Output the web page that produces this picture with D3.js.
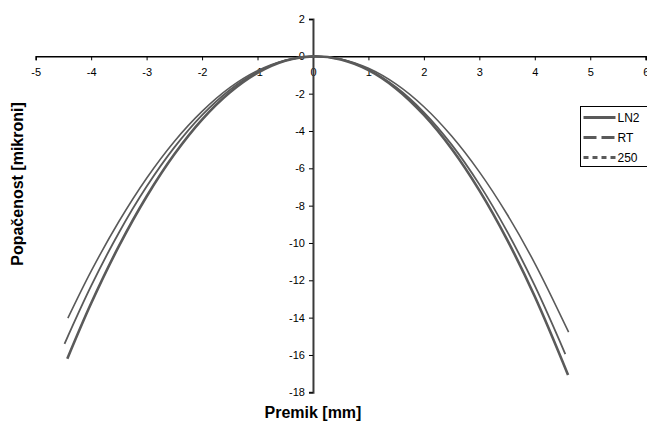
<!DOCTYPE html>
<html>
<head>
<meta charset="utf-8">
<script src="https://cdn.jsdelivr.net/npm/d3@7"></script>
<style>
  body { margin: 0; background: #fff; }
  svg { display: block; font-family: "Liberation Sans", Arial, sans-serif; }
</style>
</head>
<body>
<svg id="chart" width="647" height="421"></svg>
<script>
// series values (x in mm, y in microns)
const xLN2 = [-4.43, -4, -3.5, -3, -2.5, -2, -1.5, -1, -0.5, 0, 0.5, 1, 1.5, 2, 2.5, 3, 3.5, 4, 4.6];
const yLN2 = [-16.2, -13.23, -10.17, -7.51, -5.25, -3.39, -1.94, -0.89, -0.24, 0, -0.17, -0.74, -1.73, -3.14, -4.95, -7.18, -9.82, -12.87, -17.07];

const xRT = [-4.48, -4, -3.5, -3, -2.5, -2, -1.5, -1, -0.5, 0, 0.5, 1, 1.5, 2, 2.5, 3, 3.5, 4, 4.55];
const yRT = [-15.4, -12.3, -9.45, -6.98, -4.88, -3.15, -1.8, -0.83, -0.23, 0, -0.16, -0.71, -1.66, -3.0, -4.73, -6.86, -9.38, -12.29, -15.95];

const x250 = [-4.42, -4, -3.5, -3, -2.5, -2, -1.5, -1, -0.5, 0, 0.5, 1, 1.5, 2, 2.5, 3, 3.5, 4, 4.61];
const y250 = [-14.03, -11.51, -8.85, -6.53, -4.56, -2.95, -1.68, -0.77, -0.21, 0, -0.14, -0.64, -1.49, -2.7, -4.27, -6.19, -8.46, -11.09, -14.78];

const seriesNames = ["LN2", "RT", "250"];
const xTicks = [-5, -4, -3, -2, -1, 0, 1, 2, 3, 4, 5, 6];
const yTicks = [2, 0, -2, -4, -6, -8, -10, -12, -14, -16, -18];

const svg = d3.select("#chart");
const lineColor = "#5a5a5a";

const x = d3.scaleLinear().domain([-5, 6]).range([35.7, 645.7]);
const y = d3.scaleLinear().domain([-18, 2]).range([392.3, 19]);

// x axis sits on y = 0, y axis on x = 0
svg.append("g")
    .attr("transform", `translate(0, ${y(0)})`)
    .call(d3.axisBottom(x).tickValues(xTicks).tickSize(4).tickPadding(8).tickFormat(d3.format("d")))
    .call(g => g.select(".domain").attr("stroke", "#000").attr("stroke-width", 1.5))
    .call(g => g.selectAll(".tick line").attr("stroke", "#000"))
    .call(g => g.selectAll(".tick text")
        .attr("font-size", 11).attr("font-family", "Liberation Sans, Arial, sans-serif")
        .text(d => d < 0 ? "-" + Math.abs(d) : d));

svg.append("g")
    .attr("transform", `translate(${x(0)}, 0)`)
    .call(d3.axisLeft(y).tickValues(yTicks).tickSize(4).tickPadding(4).tickFormat(d3.format("d")))
    .call(g => g.select(".domain").attr("stroke", "#3a3a3a").attr("stroke-width", 2))
    .call(g => g.selectAll(".tick line").attr("stroke", "#000"))
    .call(g => g.selectAll(".tick text")
        .attr("font-size", 11).attr("font-family", "Liberation Sans, Arial, sans-serif")
        .text(d => d < 0 ? "-" + Math.abs(d) : d));

const line = d3.line()
    .x(d => x(d[0]))
    .y(d => y(d[1]))
    .curve(d3.curveCatmullRom);

const series = [
  { name: seriesNames[0], xs: xLN2, ys: yLN2, width: 2.6, dash: null },
  { name: seriesNames[1], xs: xRT, ys: yRT, width: 1.8, dash: "13,5" },
  { name: seriesNames[2], xs: x250, ys: y250, width: 1.6, dash: "5,4" }
];

// curves in the plot look solid (dense points), only the legend shows the dashes
svg.selectAll(".curve")
    .data(series)
    .enter().append("path")
    .attr("class", "curve")
    .attr("d", s => line(s.xs.map((v, i) => [v, s.ys[i]])))
    .attr("fill", "none")
    .attr("stroke", lineColor)
    .attr("stroke-width", s => s.width);

// axis titles
svg.append("text")
    .attr("x", x(0))
    .attr("y", 418)
    .attr("text-anchor", "middle")
    .attr("font-weight", "bold")
    .attr("font-size", 16)
    .text("Premik [mm]");

svg.append("text")
    .attr("transform", "translate(23, 184) rotate(-90)")
    .attr("text-anchor", "middle")
    .attr("font-weight", "bold")
    .attr("font-size", 16)
    .text("Popačenost [mikroni]");

// legend
const legend = svg.append("g").attr("transform", "translate(580.5, 106.5)");
legend.append("rect")
    .attr("width", 80).attr("height", 60)
    .attr("fill", "#fff").attr("stroke", "#000").attr("stroke-width", 1);

const item = legend.selectAll(".legend-item")
    .data(series)
    .enter().append("g")
    .attr("class", "legend-item")
    .attr("transform", (d, i) => `translate(0, ${11 + i * 20})`);

item.append("line")
    .attr("x1", 3).attr("x2", 35)
    .attr("stroke", lineColor)
    .attr("stroke-width", 3)
    .attr("stroke-dasharray", d => d.dash);

item.append("text")
    .attr("x", 37)
    .attr("dy", "0.36em")
    .attr("font-size", 12)
    .text(d => d.name);
</script>
</body>
</html>
